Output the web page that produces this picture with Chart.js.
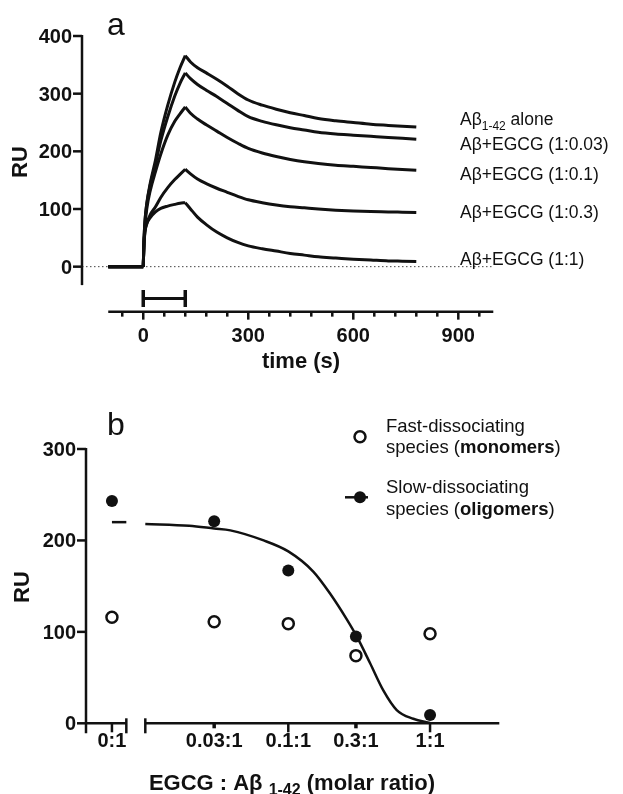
<!DOCTYPE html>
<html lang="en">
<head>
<meta charset="UTF-8">
<title>Aβ1-42 / EGCG SPR</title>
<script src="https://cdn.jsdelivr.net/npm/chart.js"></script>
<style>
  body { margin: 0; background: #fff; }
  canvas { position: absolute; left: 0; }
  #chartA { top: 0; }
  #chartB { top: 380px; }
</style>
</head>
<body>
<canvas id="chartA" width="623" height="380"></canvas>
<canvas id="chartB" width="623" height="414"></canvas>
<script>
// ---------- panel a: sensorgrams (time in s, response in RU) ----------
const timeS   = [-100, -60, -20, 0, 2, 5, 10, 20, 35, 50, 70, 90, 105, 120,
                 135, 155, 180, 210, 240, 270, 300, 340, 380, 420, 460, 500, 550, 600, 650, 700, 740, 780];
const ruAlone = [0, 0, 0, 0, 45, 80, 110, 145, 185, 232, 280, 320, 345, 366,
                 355, 345, 336, 325, 313, 300, 289, 280, 273, 267, 262, 257, 253, 250, 247, 245, 243.5, 242];
const ru003   = [0, 0, 0, 0, 45, 80, 108, 142, 178, 218, 260, 296, 318, 336,
                 326, 316, 306, 295, 283, 271, 260, 252, 246, 241, 237, 233, 230, 228, 226, 224, 222.5, 221];
const ru01    = [0, 0, 0, 0, 40, 72, 100, 132, 165, 195, 228, 252, 265, 277,
                 266, 256, 246, 235, 224, 214, 205, 197, 191, 186, 182, 179, 176, 174, 172, 170, 168.5, 167];
const ru03    = [0, 0, 0, 0, 38, 60, 75, 90, 104, 120, 137, 151, 160, 169,
                 161, 152, 144, 136, 129, 122, 116, 111, 107, 104, 102, 100, 98, 96.5, 95.5, 95, 94.5, 94];
const ru1     = [0, 0, 0, 0, 40, 62, 74, 85, 95, 101, 105, 108, 110, 111,
                 100, 86, 73, 60, 50, 42, 36, 31, 27, 23, 20, 17, 15, 13, 11.5, 10, 9.5, 9];
const injection = [0, 120];           // association phase (s)
const timeTicks = [0, 300, 600, 900];
const timeMinor = [-60, 60, 120, 180, 240, 360, 420, 480, 540, 660, 720, 780, 840, 960];
const ruTicksA  = [0, 100, 200, 300, 400];

// ---------- panel b: RU vs EGCG:Aβ molar ratio ----------
const ratioLabels = ['0:1', '0.03:1', '0.1:1', '0.3:1', '1:1'];
const ratios      = [0, 0.03, 0.1, 0.3, 1];
const monomerRU   = [116, 111, 109, 74, 98];
const oligomerRU  = [243, 221, 167, 95, 9];
const fitRatio    = [0.0098, 0.02, 0.03, 0.039, 0.067, 0.1, 0.15, 0.197, 0.258, 0.304, 0.377, 0.468, 0.582, 0.762, 1];
const fitRU       = [218, 216, 213, 211, 200, 188, 166, 142, 114, 95, 66, 36, 14.5, 5, 0.5];
const fitPlateau  = 220;
const ruTicksB    = [0, 100, 200, 300];

// the 0:1 group sits left of the axis break
const ZERO_AT = 0.0057, BREAK_L = 0.0072, BREAK_R = 0.0098;
const xPos = r => (r === 0 ? ZERO_AT : r);

const INK = '#111';
const FONT = '"Liberation Sans", Arial, sans-serif';

function line(ctx, x1, y1, x2, y2) {
  ctx.beginPath(); ctx.moveTo(x1, y1); ctx.lineTo(x2, y2); ctx.stroke();
}

// draws text pieces one after another (for subscripts / bold words)
function drawRuns(ctx, runs, x, y, align) {
  let total = 0;
  runs.forEach(r => { ctx.font = r[1]; total += ctx.measureText(r[0]).width; });
  let cx = align === 'center' ? x - total / 2 : x;
  ctx.textAlign = 'left';
  ctx.textBaseline = 'alphabetic';
  runs.forEach(r => {
    ctx.font = r[1];
    ctx.fillText(r[0], cx, y + (r[2] || 0));
    cx += ctx.measureText(r[0]).width;
  });
}

const pts = (xs, ys) => xs.map((v, i) => ({x: v, y: ys[i]}));
const PEAK = timeS.indexOf(injection[1]);
const START = timeS.indexOf(injection[0]);

// baseline, association and dissociation drawn as separate pieces so the
// injection start and the peak stay sharp
function curve(arr) {
  const all = pts(timeS, arr);
  const base = {type: 'line', borderColor: INK, borderWidth: 3, pointRadius: 0, order: 1};
  return [
    {...base, data: all.slice(0, START + 1)},
    {...base, data: all.slice(START, PEAK + 1), cubicInterpolationMode: 'monotone'},
    {...base, data: all.slice(PEAK), cubicInterpolationMode: 'monotone'}
  ];
}

const axesA = {
  id: 'axesA',
  afterDraw(chart) {
    const {ctx, chartArea: a, scales: {x, y}} = chart;
    ctx.save();
    ctx.strokeStyle = INK; ctx.fillStyle = INK; ctx.lineWidth = 2.5;
    // y axis
    line(ctx, a.left, y.getPixelForValue(400) - 1, a.left, y.getPixelForValue(-32));
    ctx.font = 'bold 20px ' + FONT; ctx.textAlign = 'right'; ctx.textBaseline = 'alphabetic';
    ruTicksA.forEach(v => {
      const py = y.getPixelForValue(v);
      line(ctx, a.left - 9, py, a.left, py);
      ctx.fillText(String(v), a.left - 10, py + 7);
    });
    // x axis, offset below the plot
    const ay = y.getPixelForValue(-78);
    line(ctx, x.getPixelForValue(-100), ay, x.getPixelForValue(1000), ay);
    timeMinor.forEach(t => { const px = x.getPixelForValue(t); line(ctx, px, ay, px, ay + 5); });
    ctx.textAlign = 'center';
    timeTicks.forEach(t => {
      const px = x.getPixelForValue(t);
      line(ctx, px, ay, px, ay + 8);
      ctx.fillText(String(t), px, ay + 30);
    });
    ctx.font = 'bold 22px ' + FONT;
    ctx.fillText('time (s)', 301, 368);
    ctx.save();
    ctx.translate(27, 162); ctx.rotate(-Math.PI / 2);
    ctx.fillText('RU', 0, 0);
    ctx.restore();
    ctx.textAlign = 'left';
    ctx.font = '32px ' + FONT;
    ctx.fillText('a', 107, 35);
    // series labels
    const f = '17.5px ' + FONT, fs = '12px ' + FONT;
    drawRuns(ctx, [['Aβ', f], ['1-42', fs, 5], [' alone', f]], 460, 125);
    drawRuns(ctx, [['Aβ+EGCG (1:0.03)', f]], 460, 150);
    drawRuns(ctx, [['Aβ+EGCG (1:0.1)', f]], 460, 180);
    drawRuns(ctx, [['Aβ+EGCG (1:0.3)', f]], 460, 218);
    drawRuns(ctx, [['Aβ+EGCG (1:1)', f]], 460, 265);
    ctx.restore();
  }
};

new Chart(document.getElementById('chartA'), {
  type: 'line',
  data: {
    datasets: [
      {data: [{x: -175, y: 0}, {x: 1000, y: 0}], borderColor: '#444', borderWidth: 1,
       borderDash: [1.5, 2.5], pointRadius: 0, order: 5},
      ...curve(ruAlone), ...curve(ru003), ...curve(ru01), ...curve(ru03), ...curve(ru1),
      {data: injection.map(t => ({x: t, y: -55})), borderColor: INK, borderWidth: 3,
       pointStyle: 'line', pointRotation: 90, pointRadius: 8.5, pointBorderWidth: 3.5,
       pointBorderColor: INK, order: 1}
    ]
  },
  options: {
    responsive: false,
    animation: false,
    layout: {padding: {left: 82, right: 129.7, top: 36, bottom: 67.2}},
    plugins: {legend: {display: false}, tooltip: {enabled: false}},
    scales: {
      x: {type: 'linear', min: -175, max: 1000, display: false},
      y: {type: 'linear', min: -80, max: 400, display: false}
    }
  },
  plugins: [axesA]
});

const axesB = {
  id: 'axesB',
  afterDraw(chart) {
    const {ctx, chartArea: a, scales: {x, y}} = chart;
    const y0 = y.getPixelForValue(0);
    ctx.save();
    ctx.strokeStyle = INK; ctx.fillStyle = INK; ctx.lineWidth = 2.5;
    // y axis
    line(ctx, a.left, y.getPixelForValue(300) - 1, a.left, y0 + 10);
    ctx.font = 'bold 20px ' + FONT; ctx.textAlign = 'right'; ctx.textBaseline = 'alphabetic';
    ruTicksB.forEach(v => {
      const py = y.getPixelForValue(v);
      line(ctx, a.left - 9, py, a.left, py);
      ctx.fillText(String(v), a.left - 10, py + 7);
    });
    // broken x axis
    const bl = x.getPixelForValue(BREAK_L), br = x.getPixelForValue(BREAK_R);
    line(ctx, a.left, y0, bl, y0);
    line(ctx, bl, y0 - 5, bl, y0 + 10);
    line(ctx, br, y0, a.right, y0);
    line(ctx, br, y0 - 5, br, y0 + 10);
    ctx.textAlign = 'center';
    ratios.forEach((r, i) => {
      const px = x.getPixelForValue(xPos(r));
      const len = (r === 0.03 || r === 0.3) ? 5 : 9;
      ctx.lineWidth = len === 5 ? 3.5 : 2.5;
      line(ctx, px, y0, px, y0 + len);
      ctx.fillText(ratioLabels[i], px, y0 + 24);
    });
    const tb = 'bold 22px ' + FONT;
    drawRuns(ctx, [['EGCG : Aβ ', tb], ['1-42', 'bold 16px ' + FONT, 5], [' (molar ratio)', tb]], 292, 410, 'center');
    ctx.font = 'bold 22px ' + FONT;
    ctx.textAlign = 'center';
    ctx.save();
    ctx.translate(29, 207); ctx.rotate(-Math.PI / 2);
    ctx.fillText('RU', 0, 0);
    ctx.restore();
    ctx.textAlign = 'left';
    ctx.font = '32px ' + FONT;
    ctx.fillText('b', 107, 55);
    // legend
    ctx.lineWidth = 2.5;
    ctx.beginPath(); ctx.arc(360, 56.7, 5.5, 0, Math.PI * 2);
    ctx.fillStyle = '#fff'; ctx.fill(); ctx.stroke();
    line(ctx, 345, 117.3, 368, 117.3);
    ctx.fillStyle = INK;
    ctx.beginPath(); ctx.arc(360, 117.3, 6, 0, Math.PI * 2); ctx.fill();
    const n = '18.5px ' + FONT, b = 'bold 18.5px ' + FONT;
    drawRuns(ctx, [['Fast-dissociating', n]], 386, 51.7);
    drawRuns(ctx, [['species (', n], ['monomers', b], [')', n]], 386, 73.3);
    drawRuns(ctx, [['Slow-dissociating', n]], 386, 113.3);
    drawRuns(ctx, [['species (', n], ['oligomers', b], [')', n]], 386, 135);
    ctx.restore();
  }
};

new Chart(document.getElementById('chartB'), {
  type: 'scatter',
  data: {
    datasets: [
      {type: 'line', data: pts(fitRatio, fitRU), borderColor: INK, borderWidth: 2.5, pointRadius: 0,
       cubicInterpolationMode: 'monotone', order: 3},
      {type: 'line', data: [{x: ZERO_AT, y: fitPlateau}, {x: BREAK_L, y: fitPlateau}],
       borderColor: INK, borderWidth: 2.5, pointRadius: 0, order: 3},
      {label: 'Fast-dissociating species (monomers)', data: pts(ratios.map(xPos), monomerRU),
       pointRadius: 5.5, pointBorderWidth: 2.5, pointBorderColor: INK, pointBackgroundColor: '#fff', order: 1},
      {label: 'Slow-dissociating species (oligomers)', data: pts(ratios.map(xPos), oligomerRU),
       pointRadius: 6, pointBorderWidth: 0, pointBackgroundColor: INK, order: 1}
    ]
  },
  options: {
    responsive: false,
    animation: false,
    clip: false,
    layout: {padding: {left: 86, right: 123.7, top: 69, bottom: 70.7}},
    plugins: {legend: {display: false}, tooltip: {enabled: false}},
    scales: {
      x: {type: 'logarithmic', min: 0.00374, max: 3.08, display: false},
      y: {type: 'linear', min: 0, max: 300, display: false}
    }
  },
  plugins: [axesB]
});
</script>
</body>
</html>
